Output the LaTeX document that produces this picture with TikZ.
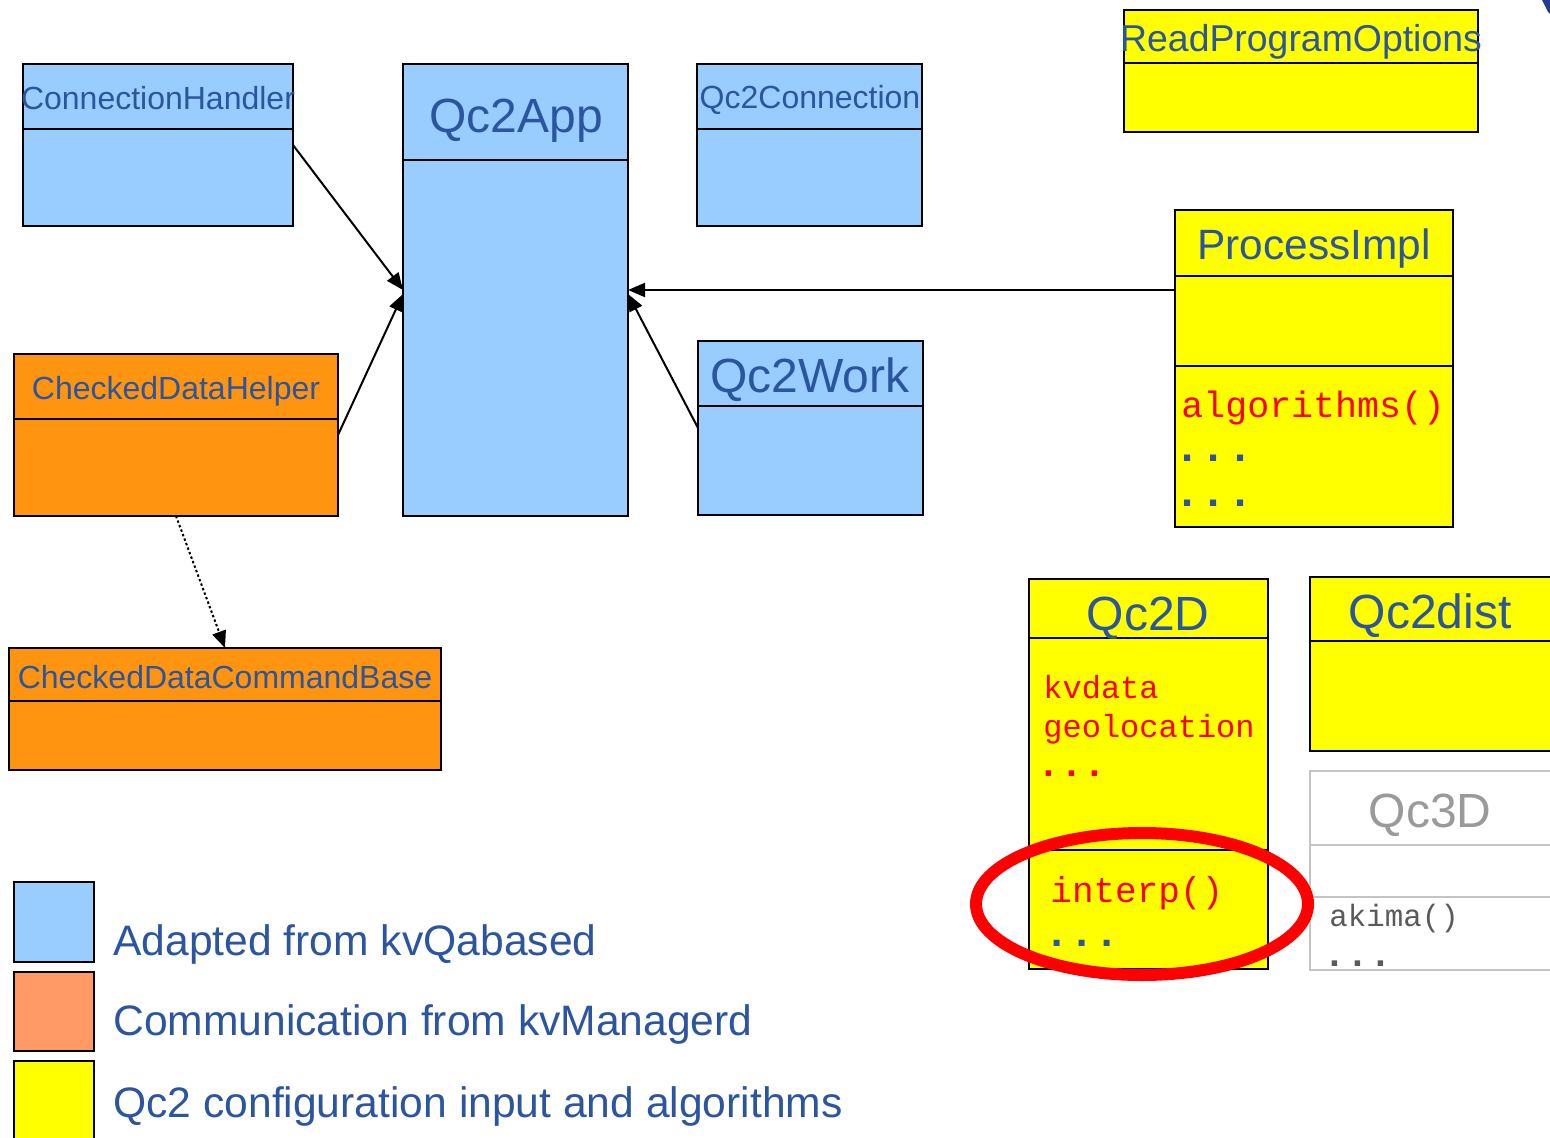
\documentclass[tikz,border=0pt]{standalone}
\usepackage{fontspec}
\setmainfont{Liberation Sans}
\setmonofont{Liberation Mono}
\usetikzlibrary{fit,arrows.meta}

\definecolor{clsblue}{HTML}{99CCFF}
\definecolor{clsorange}{HTML}{FF9410}
\definecolor{keyorange}{HTML}{FF9966}
\definecolor{clsyellow}{HTML}{FFFF00}
\definecolor{ink}{RGB}{44,85,160}
\definecolor{ghostline}{HTML}{C4C4C4}
\definecolor{ghosttext}{HTML}{9A9A9A}
\definecolor{ghostcode}{HTML}{5A5A5A}
\definecolor{logoblue}{RGB}{40,60,140}

\tikzset{
  cls/.style={draw=black, line width=1.2pt, inner sep=0pt, outer sep=0pt},
  ghostcls/.style={draw=ghostline, line width=1.2pt, inner sep=0pt, outer sep=0pt},
  divline/.style={draw=black, line width=1.2pt},
  ghostdiv/.style={draw=ghostline, line width=1.2pt},
  ttl/.style={text=ink, inner sep=0pt, anchor=base},
  small/.style={ttl, font=\fontsize{16}{19}\selectfont},
  mid/.style={ttl, font=\fontsize{18.7}{22}\selectfont},
  large/.style={ttl, font=\fontsize{21.2}{25}\selectfont},
  huge/.style={ttl, font=\fontsize{24}{28}\selectfont},
  code/.style={inner sep=0pt, anchor=base west, font=\ttfamily},
  dots/.style={inner sep=0pt, anchor=base, font=\ttfamily},
  keytext/.style={text=ink, inner sep=0pt, anchor=base west, font=\fontsize{21.3}{25}\selectfont},
  assoc/.style={draw=black, line width=1pt, -{Triangle[length=8.5pt, width=7pt]}},
  dep/.style={draw=black, line width=1pt, dash pattern=on 1.2pt off 1.2pt,
              -{Triangle[length=8.5pt, width=7pt]}},
}

\begin{document}
\begin{tikzpicture}[x=0.5pt, y=-0.5pt]
\useasboundingbox (0,0) rectangle (1550,1138);

% ---------- class boxes ----------
\node[cls, fill=clsblue, fit={(23,64) (293,226)}] (ch) {};
\draw[divline] (ch.west |- 0,129) -- (ch.east |- 0,129);
\node[small] (chT) at (158,110) {ConnectionHandler};

\node[cls, fill=clsblue, fit={(403,64) (628,516)}] (app) {};
\draw[divline] (app.west |- 0,160) -- (app.east |- 0,160);
\node[huge] (appT) at (516,133) {Qc2App};

\node[cls, fill=clsblue, fit={(697,64) (922,226)}] (con) {};
\draw[divline] (con.west |- 0,129) -- (con.east |- 0,129);
\node[small] (conT) at (810,109) {Qc2Connection};

\node[cls, fill=clsblue, fit={(698,341) (923,515)}] (wk) {};
\draw[divline] (wk.west |- 0,406) -- (wk.east |- 0,406);
\node[huge] (wkT) at (810,393) {Qc2Work};

\node[cls, fill=clsorange, fit={(14,354) (338,516)}] (cdh) {};
\draw[divline] (cdh.west |- 0,419) -- (cdh.east |- 0,419);
\node[small] (cdhT) at (176,400) {CheckedDataHelper};

\node[cls, fill=clsorange, fit={(9,648) (441,770)}] (cdb) {};
\draw[divline] (cdb.west |- 0,701) -- (cdb.east |- 0,701);
\node[small] (cdbT) at (225,688) {CheckedDataCommandBase};

\node[cls, fill=clsyellow, fit={(1124,10) (1478,132)}] (rpo) {};
\draw[divline] (rpo.west |- 0,63) -- (rpo.east |- 0,63);
\node[mid] (rpoT) at (1301,52) {ReadProgramOptions};

\node[cls, fill=clsyellow, fit={(1175,210) (1453,527)}] (pi) {};
\draw[divline] (pi.west |- 0,276) -- (pi.east |- 0,276);
\draw[divline] (pi.west |- 0,366) -- (pi.east |- 0,366);
\node[large] (piT) at (1314,260) {ProcessImpl};
\node[code, text=red, font=\fontsize{18.3}{22}\selectfont\ttfamily] (piM) at (1181,417) {algorithms()};
\node[dots, text=ink, font=\fontsize{21.7}{26}\selectfont\ttfamily\bfseries] (piD1) at (1214,461) {...};
\node[dots, text=ink, font=\fontsize{21.7}{26}\selectfont\ttfamily\bfseries] (piD2) at (1214,506) {...};

\node[cls, fill=clsyellow, fit={(1029,579) (1268,969)}] (q2d) {};
\draw[divline] (q2d.west |- 0,638) -- (q2d.east |- 0,638);
\draw[divline] (q2d.west |- 0,850) -- (q2d.east |- 0,850);
\node[huge] (q2dT) at (1148,630) {Qc2D};
\node[code, text=red, font=\fontsize{16}{19}\selectfont\ttfamily] (q2dA) at (1043,698) {kvdata};
\node[code, text=red, font=\fontsize{16}{19}\selectfont\ttfamily] (q2dB) at (1043,737) {geolocation};
\node[dots, text=red, font=\fontsize{19}{23}\selectfont\ttfamily\bfseries] (q2dC) at (1072,776) {...};
\node[code, text=red, font=\fontsize{18}{22}\selectfont\ttfamily] (q2dM) at (1050,902) {interp()};
\node[dots, text=ink, font=\fontsize{21}{25}\selectfont\ttfamily\bfseries] (q2dD) at (1082,946) {...};

\node[cls, fill=clsyellow, fit={(1310,577) (1560,751)}] (dist) {};
\draw[divline] (dist.west |- 0,641) -- (dist.east |- 0,641);
\node[huge] (distT) at (1430,628) {Qc2dist};

\node[ghostcls, fill=white, fit={(1310,771) (1560,970)}] (q3d) {};
\draw[ghostdiv] (q3d.west |- 0,845) -- (q3d.east |- 0,845);
\draw[ghostdiv] (q3d.west |- 0,897) -- (q3d.east |- 0,897);
\node[huge, text=ghosttext] (q3dT) at (1430,827) {Qc3D};
\node[code, text=ghostcode, font=\fontsize{15.4}{18}\selectfont\ttfamily] (q3dM) at (1329,926) {akima()};
\node[dots, text=ghostcode, font=\fontsize{19}{23}\selectfont\ttfamily\bfseries] (q3dD) at (1358,966) {...};

% ---------- connectors ----------
\draw[assoc] (ch.east) -- (app.west);
\draw[assoc] (cdh.east) -- ([yshift=-2pt]app.west);
\draw[assoc] (app.east -| pi.west) -- (app.east);
\draw[assoc] (wk.west) -- ([yshift=-2pt]app.east);
\draw[dep] (cdh.south) -- (cdb.north);

% ---------- highlight round interp() ----------
\draw[red, line width=6pt] (1142,904) ellipse [x radius=83pt, y radius=35.5pt];

% ---------- colour key ----------
\node[cls, fill=clsblue, fit={(14,882) (94,962)}] (keyA) {};
\node[cls, fill=keyorange, fit={(14,972) (94,1051)}] (keyB) {};
\node[cls, fill=clsyellow, fit={(14,1061) (94,1150)}] (keyC) {};
\node[keytext] (keyAT) at (113,955) {Adapted from kvQabased};
\node[keytext] (keyBT) at (113,1035) {Communication from kvManagerd};
\node[keytext] (keyCT) at (113,1117) {Qc2 configuration input and algorithms};

% ---------- logo corner ----------
\fill[logoblue] (1542,0) -- (1552,0) -- (1552,16) -- (1548,12) -- cycle;
\end{tikzpicture}
\end{document}
